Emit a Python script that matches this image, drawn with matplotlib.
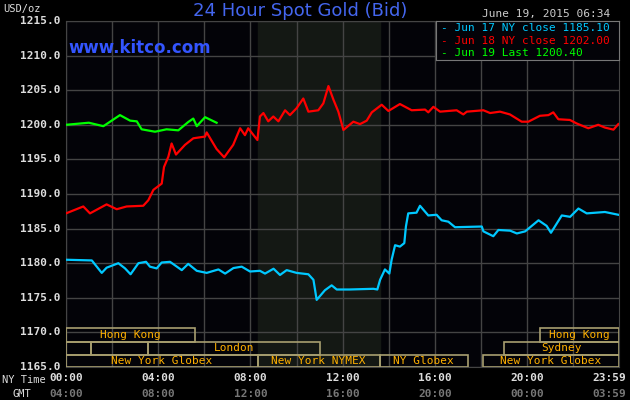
import matplotlib
matplotlib.use("Agg")
import matplotlib.pyplot as plt
from matplotlib.patches import Rectangle

green_t = [0,0.99,1.62,2.34,2.78,3.07,3.28,3.86,4.36,4.87,5.3,5.52,5.67,6.03,6.53]
green_v = [1200.0,1200.3,1199.8,1201.4,1200.6,1200.5,1199.35,1199.0,1199.35,1199.2,1200.4,1200.9,1199.8,1201.1,1200.3]

red_t = [0,0.75,1.04,1.76,2.2,2.63,3.35,3.57,3.79,4.15,4.25,4.44,4.58,4.77,5.16,5.52,6.03,6.1,6.53,6.86,7.25,7.55,7.76,7.9,8.3,8.41,8.56,8.77,8.99,9.21,9.5,9.71,10.0,10.29,10.51,10.94,11.16,11.38,11.6,11.81,12.03,12.46,12.75,13.04,13.26,13.69,13.98,14.48,14.99,15.57,15.71,15.93,16.22,16.94,17.23,17.38,18.1,18.39,18.82,19.25,19.76,20.05,20.55,20.92,21.13,21.35,21.85,22.14,22.65,23.08,23.37,23.74,23.95]
red_v = [1187.2,1188.2,1187.2,1188.5,1187.8,1188.2,1188.3,1189.1,1190.6,1191.5,1193.9,1195.4,1197.3,1195.7,1197.1,1198.05,1198.3,1198.9,1196.5,1195.3,1197.1,1199.5,1198.5,1199.5,1197.8,1201.2,1201.7,1200.5,1201.2,1200.5,1202.1,1201.4,1202.4,1203.8,1201.9,1202.1,1203.1,1205.6,1203.6,1201.9,1199.25,1200.45,1200.1,1200.6,1201.8,1202.9,1202.0,1203.0,1202.1,1202.2,1201.8,1202.6,1201.9,1202.1,1201.5,1201.9,1202.1,1201.7,1201.9,1201.5,1200.45,1200.45,1201.3,1201.4,1201.8,1200.8,1200.7,1200.2,1199.5,1200.0,1199.6,1199.3,1200.1]

blue_t = [0,1.12,1.55,1.76,2.27,2.56,2.8,3.14,3.47,3.64,3.93,4.15,4.51,5.02,5.3,5.67,6.1,6.61,6.9,7.26,7.62,7.98,8.41,8.63,9.0,9.28,9.57,10.0,10.51,10.73,10.87,11.23,11.52,11.74,12.29,13.33,13.5,13.62,13.83,14.02,14.12,14.27,14.48,14.67,14.74,14.84,15.2,15.35,15.71,16.07,16.29,16.58,16.87,18.03,18.1,18.53,18.75,19.26,19.55,19.91,20.49,20.84,21.03,21.5,21.86,22.22,22.58,23.37,23.95]
blue_v = [1180.5,1180.4,1178.6,1179.35,1180.0,1179.25,1178.4,1180.0,1180.2,1179.5,1179.25,1180.1,1180.2,1179.0,1179.9,1178.9,1178.6,1179.1,1178.5,1179.3,1179.5,1178.8,1178.9,1178.5,1179.2,1178.3,1179.0,1178.6,1178.4,1177.6,1174.7,1176.1,1176.8,1176.2,1176.2,1176.3,1176.2,1177.6,1179.1,1178.5,1180.5,1182.6,1182.4,1182.9,1185.3,1187.2,1187.3,1188.3,1186.9,1187.0,1186.2,1186.0,1185.2,1185.3,1184.6,1183.9,1184.8,1184.7,1184.3,1184.6,1186.2,1185.4,1184.4,1186.9,1186.7,1187.9,1187.2,1187.4,1187.0]

legend_labels = ["Jun 17 NY close 1185.10", "Jun 18 NY close 1202.00", "Jun 19 Last 1200.40"]
yticks = [1165,1170,1175,1180,1185,1190,1195,1200,1205,1210,1215]
ny_labels = ["00:00","04:00","08:00","12:00","16:00","20:00","23:59"]
gmt_labels = ["04:00","08:00","12:00","16:00","20:00","00:00","03:59"]
tick_pos = [0,4,8,12,16,20,23.98]

sessions = [(0,5.59,0,"Hong Kong"),(20.54,23.98,0,"Hong Kong"),
            (0,1.08,1,""),(1.08,3.55,1,""),(3.55,11.0,1,"London"),(19.0,23.98,1,"Sydney"),
            (0,8.32,2,"New York Globex"),(8.32,13.6,2,"New York NYMEX"),(13.6,17.42,2,"NY Globex"),(18.07,23.98,2,"New York Globex")]
rows = [(1168.6,1170.6),(1166.75,1168.6),(1165,1166.75)]

mono = "DejaVu Sans Mono"
fig = plt.figure(figsize=(6.3,4.0), dpi=100, facecolor="black")
ax = fig.add_axes([66/630, 1-367/400, (619-66)/630, (367-21)/400])
ax.set_facecolor("#030308")
ax.set_xlim(0,23.98); ax.set_ylim(1165,1215)
ax.axvspan(8.32,13.6,color="#141814",zorder=0)
for v in yticks:
    ax.axhline(v,color="#444444",lw=1,zorder=1)
for h in range(0,24,2):
    ax.axvline(h,color="#444444",lw=1,zorder=1)
for s in ax.spines.values():
    s.set_color("#444444")
ax.set_xticks([]); ax.set_yticks([])

for (a,b,r,lab) in sessions:
    y0,y1 = rows[r]
    ax.add_patch(Rectangle((a,y0),b-a,y1-y0,fill=False,ec="#a89f70",lw=1.2,zorder=3))
    if lab:
        ax.text((a+b)/2,(y0+y1)/2,lab,color="#ffb000",fontsize=8,family=mono,ha="center",va="center",zorder=4)

ax.plot(blue_t,blue_v,color="#00c8ff",lw=1.6,zorder=5)
ax.plot(red_t,red_v,color="#ff0000",lw=1.6,zorder=5)
ax.plot(green_t,green_v,color="#00ff00",lw=1.6,zorder=5)

for v in yticks:
    y = (v-1165)/50
    ax.text(-0.01,y,f"{v:.1f}",transform=ax.transAxes,ha="right",va="center",color="#dddddd",fontsize=8,family=mono,fontweight="bold")
for i,(p,l1,l2) in enumerate(zip(tick_pos,ny_labels,gmt_labels)):
    x = p/23.98
    ha = "center"
    if i == len(tick_pos)-1:
        x = 1.0 + 7/553
        ha = "right"
    ax.text(x,-0.033,l1,transform=ax.transAxes,ha=ha,va="center",color="#dddddd",fontsize=8,family=mono,fontweight="bold")
    ax.text(x,-0.078,l2,transform=ax.transAxes,ha=ha,va="center",color="#777777",fontsize=8,family=mono,fontweight="bold")
fig.text(2/630,1-380/400,"NY Time",color="#dddddd",fontsize=7.5,family=mono,va="center")
fig.text(12/630,1-394/400,"GMT",color="#dddddd",fontsize=7.5,family=mono,va="center")
fig.text(3/630,1-9/400,"USD/oz",color="#dddddd",fontsize=7.5,family=mono,va="center")

fig.text(300/630,1-11/400,"24 Hour Spot Gold (Bid)",color="#4466ee",fontsize=13,ha="center",va="center")
fig.text(68/630,1-48/400,"www.kitco.com",color="#3355ff",fontsize=12,ha="left",va="center",fontweight="bold")
fig.text(610/630,1-14/400,"June 19, 2015 06:34",color="#cccccc",fontsize=8,family=mono,ha="right",va="center")

lax = fig.add_axes([436/630,1-60/400,(619-436)/630,(60-21)/400])
lax.set_facecolor("#030308"); lax.set_xticks([]); lax.set_yticks([])
for s in lax.spines.values(): s.set_color("#777777")
for i,(lab,c) in enumerate(zip(legend_labels,["#00c8ff","#ff0000","#00ff00"])):
    lax.text(0.03,0.82-i*0.32,"- "+lab,color=c,fontsize=8,family=mono,va="center",transform=lax.transAxes)

fig.savefig("out.png",dpi=100,facecolor="black")
